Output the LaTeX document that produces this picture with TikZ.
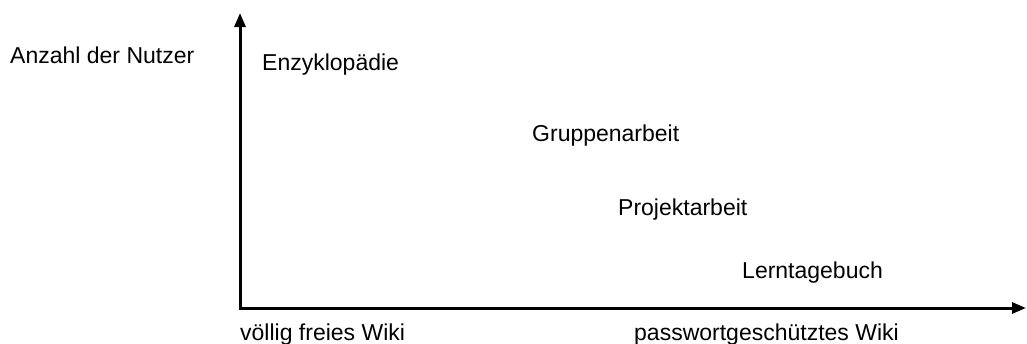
\documentclass[tikz,border=0pt]{standalone}
\usepackage{fontspec}
\setmainfont{Liberation Sans}
\usetikzlibrary{arrows.meta}
\begin{document}
\begin{tikzpicture}[x=1pt,y=-1pt,
  lbl/.style={anchor=base west,inner sep=0pt,font=\fontsize{23}{26}\selectfont},
  axis/.style={line width=3pt,{Triangle[length=14pt,width=11pt]}-{Triangle[length=14pt,width=11pt]}}]
  \useasboundingbox (0,0) rectangle (1027,343);
  % axes
  \coordinate (ytop) at (240,13);
  \coordinate (origin) at (240,308);
  \coordinate (xend) at (1026,308);
  \draw[axis] (ytop) -- (origin) -- (xend);
  % axis captions
  \node[lbl] (ylab) at (10,63) {Anzahl der Nutzer};
  \node[lbl] (xlow) at (240,340) {völlig freies Wiki};
  \node[lbl] (xhigh) at (634,340) {passwortgeschütztes Wiki};
  % wiki uses
  \node[lbl] (enz) at (262,70) {Enzyklopädie};
  \node[lbl] (grp) at (532,141) {Gruppenarbeit};
  \node[lbl] (prj) at (618,215) {Projektarbeit};
  \node[lbl] (ltb) at (742,278) {Lerntagebuch};
\end{tikzpicture}
\end{document}
